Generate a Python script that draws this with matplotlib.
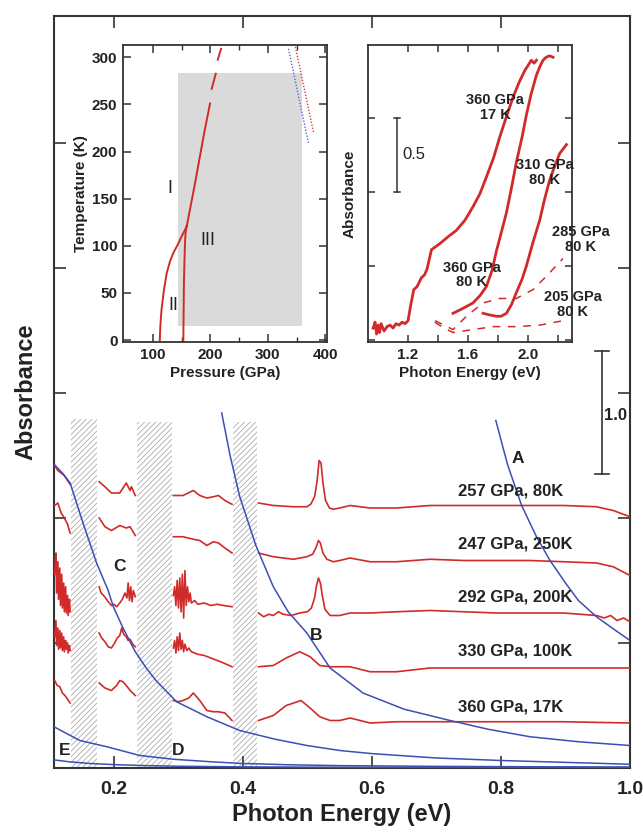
import matplotlib
matplotlib.use("Agg")
import matplotlib.pyplot as plt
from matplotlib.patches import Rectangle

plt.rcParams["font.family"] = ["Liberation Sans", "DejaVu Sans"]
plt.rcParams["hatch.linewidth"] = 0.6

# ---------------- main panel: IR spectra ----------------
spec_labels = ["257 GPa, 80K", "247 GPa, 250K", "292 GPa, 200K", "330 GPa, 100K", "360 GPa, 17K"]

# each trace is split into 4 pieces by the hatched (opaque) windows
spec_257_e = [
    [0.108, 0.113, 0.118, 0.123, 0.128, 0.132],
    [0.177, 0.186, 0.196, 0.209, 0.219, 0.225, 0.227, 0.233],
    [0.292, 0.307, 0.323, 0.333, 0.344, 0.354, 0.362, 0.372, 0.383],
    [0.424, 0.447, 0.478, 0.499, 0.505, 0.511, 0.515, 0.518, 0.521, 0.524, 0.528, 0.534, 0.540,
     0.550, 0.566, 0.597, 0.638, 0.690, 0.742, 0.793, 0.845, 0.897, 0.948, 0.974, 1.0],
]
spec_257_a = [
    [2.42, 2.38, 2.36, 2.34, 2.30, 2.27],
    [2.29, 2.25, 2.20, 2.20, 2.28, 2.22, 2.25, 2.18],
    [2.18, 2.18, 2.22, 2.18, 2.16, 2.17, 2.18, 2.14, 2.11],
    [2.12, 2.10, 2.09, 2.09, 2.11, 2.17, 2.30, 2.46, 2.44, 2.28, 2.14, 2.08, 2.07,
     2.08, 2.10, 2.08, 2.08, 2.10, 2.10, 2.10, 2.10, 2.10, 2.09, 2.06, 2.01],
]

spec_247_e = [
    [0.108, 0.113, 0.118, 0.123, 0.128, 0.132],
    [0.177, 0.186, 0.196, 0.209, 0.219, 0.225, 0.233],
    [0.292, 0.307, 0.323, 0.333, 0.344, 0.354, 0.362, 0.372, 0.383],
    [0.424, 0.447, 0.478, 0.499, 0.508, 0.513, 0.517, 0.520, 0.524, 0.530, 0.540, 0.550, 0.566,
     0.597, 0.638, 0.690, 0.742, 0.793, 0.845, 0.897, 0.948, 0.974, 1.0],
]
spec_247_a = [
    [2.10, 2.12, 2.04, 2.00, 1.95, 1.88],
    [2.00, 1.93, 1.90, 1.94, 1.92, 1.93, 1.86],
    [1.85, 1.85, 1.83, 1.82, 1.78, 1.81, 1.80, 1.76, 1.72],
    [1.72, 1.69, 1.67, 1.69, 1.71, 1.76, 1.82, 1.80, 1.72, 1.67, 1.65, 1.66, 1.68,
     1.65, 1.65, 1.67, 1.66, 1.66, 1.66, 1.65, 1.64, 1.61, 1.54],
]

spec_292_e = [
    [0.108, 0.110, 0.111, 0.113, 0.114, 0.116, 0.117, 0.119, 0.120, 0.122, 0.123, 0.125, 0.126,
     0.128, 0.129, 0.131, 0.132],
    [0.177, 0.180, 0.184, 0.187, 0.191, 0.196, 0.200, 0.204, 0.209, 0.213, 0.217, 0.220, 0.222,
     0.224, 0.226, 0.228, 0.230, 0.233],
    [0.292, 0.294, 0.296, 0.298, 0.300, 0.302, 0.304, 0.306, 0.308, 0.310, 0.312, 0.314, 0.316,
     0.318, 0.320, 0.325, 0.330, 0.340, 0.350, 0.360, 0.370, 0.383],
    [0.424, 0.432, 0.440, 0.447, 0.455, 0.462, 0.475, 0.488, 0.500, 0.506, 0.511, 0.514, 0.517,
     0.520, 0.523, 0.527, 0.535, 0.550, 0.566, 0.597, 0.638, 0.690, 0.742, 0.793, 0.845, 0.897,
     0.948, 0.960, 0.970, 0.980, 0.990, 1.0],
]
spec_292_a = [
    [1.55, 1.72, 1.40, 1.65, 1.35, 1.60, 1.30, 1.55, 1.28, 1.48, 1.25, 1.45, 1.24, 1.38, 1.22,
     1.35, 1.25],
    [1.45, 1.40, 1.38, 1.36, 1.33, 1.30, 1.31, 1.29, 1.32, 1.35, 1.40, 1.36, 1.48, 1.34, 1.45,
     1.33, 1.42, 1.37],
    [1.38, 1.45, 1.30, 1.50, 1.28, 1.52, 1.25, 1.55, 1.20, 1.58, 1.30, 1.45, 1.33, 1.40, 1.32,
     1.34, 1.31, 1.32, 1.30, 1.31, 1.30, 1.29],
    [1.24, 1.21, 1.23, 1.22, 1.25, 1.23, 1.22, 1.24, 1.25, 1.28, 1.36, 1.46, 1.52, 1.48, 1.38,
     1.27, 1.22, 1.22, 1.24, 1.24, 1.25, 1.26, 1.25, 1.24, 1.24, 1.24, 1.22, 1.20, 1.22, 1.18,
     1.20, 1.17],
]

spec_330_e = [
    [0.108, 0.110, 0.111, 0.113, 0.114, 0.116, 0.117, 0.119, 0.120, 0.122, 0.123, 0.125, 0.126,
     0.128, 0.129, 0.131, 0.132],
    [0.177, 0.181, 0.186, 0.191, 0.196, 0.201, 0.205, 0.209, 0.212, 0.215, 0.219, 0.222, 0.225,
     0.229, 0.233],
    [0.292, 0.294, 0.296, 0.298, 0.300, 0.302, 0.304, 0.306, 0.308, 0.310, 0.313, 0.316, 0.320,
     0.330, 0.340, 0.350, 0.360, 0.370, 0.383],
    [0.424, 0.447, 0.467, 0.488, 0.504, 0.519, 0.535, 0.550, 0.566, 0.597, 0.638, 0.690, 0.742,
     0.793, 0.845, 0.897, 0.948, 1.0],
]
spec_330_a = [
    [1.05, 1.18, 0.98, 1.12, 0.95, 1.10, 0.96, 1.08, 0.94, 1.05, 0.93, 1.02, 0.95, 1.00, 0.92,
     0.98, 0.94],
    [1.08, 1.04, 1.01, 0.97, 0.96, 1.00, 1.04, 1.06, 1.12, 1.07, 1.05, 1.02, 1.03, 0.99, 0.97],
    [0.96, 1.02, 0.92, 1.05, 0.94, 1.08, 0.95, 1.02, 0.93, 0.99, 0.94, 0.96, 0.93, 0.91, 0.90,
     0.88, 0.86, 0.84, 0.81],
    [0.81, 0.82, 0.88, 0.93, 0.89, 0.82, 0.81, 0.81, 0.81, 0.77, 0.77, 0.80, 0.80, 0.80, 0.80,
     0.80, 0.80, 0.80],
]

spec_360_e = [
    [0.108, 0.112, 0.116, 0.120, 0.124, 0.128, 0.132],
    [0.177, 0.186, 0.196, 0.204, 0.209, 0.214, 0.219, 0.225, 0.233],
    [0.292, 0.300, 0.307, 0.316, 0.323, 0.333, 0.344, 0.354, 0.362, 0.372, 0.383],
    [0.424, 0.447, 0.467, 0.490, 0.504, 0.519, 0.535, 0.550, 0.566, 0.597, 0.638, 0.690, 0.793,
     0.897, 1.0],
]
spec_360_a = [
    [0.70, 0.66, 0.65, 0.60, 0.58, 0.55, 0.52],
    [0.68, 0.64, 0.62, 0.66, 0.70, 0.69, 0.66, 0.62, 0.58],
    [0.54, 0.53, 0.54, 0.56, 0.60, 0.54, 0.46, 0.45, 0.45, 0.44, 0.38],
    [0.38, 0.42, 0.50, 0.54, 0.48, 0.41, 0.38, 0.38, 0.40, 0.36, 0.37, 0.37, 0.37, 0.37, 0.36],
]

# model (blue) curves A-E
curve_a_e = [0.792, 0.81, 0.832, 0.855, 0.876, 0.90, 0.92, 0.948, 0.975, 1.0]
curve_a_a = [2.78, 2.43, 2.10, 1.85, 1.66, 1.48, 1.34, 1.21, 1.11, 1.02]
curve_b_e = [0.367, 0.38, 0.395, 0.42, 0.447, 0.47, 0.499, 0.535, 0.586, 0.65, 0.721, 0.78, 0.845, 0.92, 1.0]
curve_b_a = [2.84, 2.50, 2.17, 1.78, 1.45, 1.25, 1.08, 0.80, 0.60, 0.47, 0.38, 0.31, 0.25, 0.21, 0.18]
curve_c_e = [0.107, 0.120, 0.132, 0.152, 0.173, 0.191, 0.199, 0.214, 0.233, 0.25, 0.265, 0.297,
             0.344, 0.395, 0.45, 0.499, 0.55, 0.6, 0.7, 0.8, 0.9, 1.0]
curve_c_a = [2.43, 2.36, 2.28, 1.96, 1.64, 1.42, 1.29, 1.12, 0.93, 0.80, 0.70, 0.53,
             0.41, 0.30, 0.23, 0.18, 0.14, 0.115, 0.08, 0.06, 0.045, 0.03]
curve_e_e = [0.107, 0.125, 0.147, 0.189, 0.24, 0.292, 0.35, 0.395, 0.47, 0.55, 0.7, 0.85, 1.0]
curve_e_a = [0.33, 0.28, 0.22, 0.17, 0.10, 0.07, 0.05, 0.037, 0.026, 0.019, 0.013, 0.010, 0.008]
curve_d_e = [0.107, 0.13, 0.16, 0.2, 0.25, 0.3, 0.4, 0.55, 0.7, 1.0]
curve_d_a = [0.065, 0.05, 0.037, 0.027, 0.019, 0.014, 0.009, 0.006, 0.004, 0.003]

# opaque windows of the diamond anvils (hatched)
hatch_lo = [0.134, 0.235, 0.385]
hatch_hi = [0.174, 0.290, 0.421]
hatch_top = [2.79, 2.77, 2.77]

# ---------------- left inset: phase diagram ----------------
line_12_p = [112, 113, 115, 119, 124, 130, 136, 143, 150, 156, 159]
line_12_t = [0, 15, 32, 52, 71, 84, 93, 101, 110, 117, 121]
line_23_p = [153, 153.5, 154, 155, 156, 157, 159]
line_23_t = [0, 30, 60, 85, 105, 115, 121]
line_13_p = [159, 165, 172, 181, 190, 199.5]
line_13_t = [121, 140, 162, 192, 222, 251]
line_13_dash_p = [[202.4, 209.4], [212.9, 218.7]]
line_13_dash_t = [[266.6, 282.5], [297.4, 309.0]]
dot_blue_p = [336, 371]
dot_blue_t = [309, 208]
dot_red_p = [348, 380]
dot_red_t = [311, 219]
region_p = [143, 360]
region_t = [15, 283]

# ---------------- right inset: visible absorption ----------------
vis_360_17_e = [0.967, 0.98, 0.99, 1.0, 1.01, 1.02, 1.04, 1.06, 1.08, 1.10, 1.12, 1.14, 1.16, 1.18,
                1.20, 1.215, 1.238, 1.26, 1.289, 1.31, 1.327, 1.356, 1.411, 1.47, 1.522, 1.58,
                1.633, 1.68, 1.722, 1.77, 1.811, 1.856, 1.90, 1.94, 1.978, 2.022, 2.04, 2.056]
vis_360_17_a = [0.08, 0.12, 0.04, 0.10, 0.05, 0.11, 0.06, 0.09, 0.10, 0.08, 0.11, 0.10, 0.12, 0.11,
                0.13, 0.22, 0.34, 0.36, 0.42, 0.44, 0.48, 0.61, 0.65, 0.70, 0.74, 0.81,
                0.90, 0.99, 1.10, 1.23, 1.37, 1.51, 1.64, 1.74, 1.82, 1.89, 1.87, 1.89]
vis_360_80_e = [1.5, 1.56, 1.633, 1.68, 1.722, 1.76, 1.789, 1.82, 1.856, 1.89, 1.922, 1.96, 1.989,
                2.02, 2.056, 2.08, 2.1, 2.12, 2.144, 2.167]
vis_360_80_a = [0.18, 0.21, 0.25, 0.30, 0.36, 0.47, 0.60, 0.72, 0.86, 1.03, 1.20, 1.37, 1.52,
                1.66, 1.79, 1.85, 1.89, 1.91, 1.92, 1.91]
vis_310_80_e = [1.70, 1.74, 1.789, 1.82, 1.856, 1.89, 1.922, 1.96, 1.989, 2.03, 2.078, 2.11, 2.144,
                2.18, 2.211, 2.256]
vis_310_80_a = [0.18, 0.17, 0.16, 0.16, 0.18, 0.24, 0.32, 0.41, 0.50, 0.65, 0.81, 0.95, 1.08,
                1.18, 1.26, 1.32]
vis_285_80_e = [1.38, 1.44, 1.50, 1.589, 1.70, 1.811, 1.922, 2.033, 2.122, 2.233]
vis_285_80_a = [0.13, 0.10, 0.07, 0.16, 0.25, 0.28, 0.28, 0.34, 0.43, 0.55]
vis_205_80_e = [1.378, 1.44, 1.50, 1.633, 1.767, 1.922, 2.078, 2.233]
vis_205_80_a = [0.12, 0.08, 0.05, 0.07, 0.09, 0.09, 0.10, 0.13]

RED = "#d12a2a"
BLUE = "#3b4fb4"
SPINE = "#333333"

fig = plt.figure(figsize=(6.43, 8.34), dpi=100)

# main axes
ax = fig.add_axes([54 / 643, 66 / 834, 576 / 643, 752 / 834])
ax.set_xlim(0.107, 1.0)
ax.set_ylim(0, 6.016)

for lo, hi, top in zip(hatch_lo, hatch_hi, hatch_top):
    ax.add_patch(Rectangle((lo, 0), hi - lo, top, facecolor="white", edgecolor="#ababab",
                           hatch="//////", lw=0, zorder=1))

for es, as_ in [(spec_257_e, spec_257_a), (spec_247_e, spec_247_a), (spec_292_e, spec_292_a),
                (spec_330_e, spec_330_a), (spec_360_e, spec_360_a)]:
    for e, a in zip(es, as_):
        ax.plot(e, a, color=RED, lw=1.2, zorder=3)

for e, a in [(curve_a_e, curve_a_a), (curve_b_e, curve_b_a), (curve_c_e, curve_c_a),
             (curve_e_e, curve_e_a), (curve_d_e, curve_d_a)]:
    ax.plot(e, a, color=BLUE, lw=1.1, zorder=4)

label_y = [2.22, 1.79, 1.37, 0.94, 0.49]
for txt, y in zip(spec_labels, label_y):
    ax.text(0.733, y, txt, fontsize=12, fontweight="bold", color="#222222",
            ha="left", va="center", zorder=5)

for txt, x, y in [("A", 0.826, 2.48), ("B", 0.514, 1.06), ("C", 0.208, 1.61),
                  ("D", 0.299, 0.14), ("E", 0.124, 0.14)]:
    ax.text(x, y, txt, fontsize=12.5, fontweight="bold", color="#222222",
            ha="center", va="center", zorder=5)

# scale bar
ax.plot([0.956, 0.956], [2.35, 3.34], color=SPINE, lw=1.2)
ax.plot([0.945, 0.967], [2.35, 2.35], color=SPINE, lw=1.2)
ax.plot([0.945, 0.967], [3.34, 3.34], color=SPINE, lw=1.2)
ax.text(0.96, 2.82, "1.0", fontsize=12, fontweight="bold", color="#222222", ha="left", va="center")

ax.set_xticks([0.2, 0.4, 0.6, 0.8, 1.0])
ax.set_xticklabels(["0.2", "0.4", "0.6", "0.8", "1.0"], fontweight="bold")
ax.set_yticks([1, 2, 3, 4, 5])
ax.set_yticklabels([])
ax.tick_params(direction="in", length=8.5, width=1.2, top=True, right=True,
               labelsize=14, pad=9, colors=SPINE, labelcolor="#222222")
for s in ax.spines.values():
    s.set_linewidth(1.5)
    s.set_color(SPINE)
ax.set_xlabel("Photon Energy (eV)", fontsize=17, fontweight="bold", color="#222222", labelpad=4)
ax.set_ylabel("Absorbance", fontsize=17, fontweight="bold", color="#222222")
ax.yaxis.set_label_coords(-0.028, 0.5)

# left inset: phase diagram
ax1 = fig.add_axes([123 / 643, (834 - 342) / 834, 204 / 643, 297 / 834])
ax1.set_xlim(48, 403)
ax1.set_ylim(-2, 313)
ax1.add_patch(Rectangle((region_p[0], region_t[0]), region_p[1] - region_p[0],
                        region_t[1] - region_t[0], facecolor="#dadada", lw=0))
ax1.plot(line_12_p, line_12_t, color=RED, lw=1.4)
ax1.plot(line_23_p, line_23_t, color=RED, lw=1.4)
ax1.plot(line_13_p, line_13_t, color=RED, lw=1.4)
for p, t in zip(line_13_dash_p, line_13_dash_t):
    ax1.plot(p, t, color=RED, lw=1.4)
ax1.plot(dot_blue_p, dot_blue_t, color="#5566cc", lw=1.0, ls=(0, (1, 1.2)))
ax1.plot(dot_red_p, dot_red_t, color="#cc4444", lw=1.0, ls=(0, (1, 1.2)))
ax1.text(130, 161, "I", fontsize=13, ha="center", va="center", color="#222222")
ax1.text(135, 37, "II", fontsize=13, ha="center", va="center", color="#222222")
ax1.text(196, 106, "III", fontsize=13, ha="center", va="center", color="#222222")
ax1.set_xticks([100, 200, 300, 400])
ax1.set_xticks([150, 250, 350], minor=True)
ax1.set_yticks([0, 50, 100, 150, 200, 250, 300])
ax1.tick_params(which="major", direction="in", length=6, width=1.1, top=True, right=True,
                labelsize=11, colors=SPINE, labelcolor="#222222", pad=4)
ax1.tick_params(which="minor", direction="in", length=3.5, width=1.0, top=True, right=True,
                colors=SPINE)
for lbl in ax1.get_xticklabels() + ax1.get_yticklabels():
    lbl.set_fontweight("bold")
for s in ax1.spines.values():
    s.set_linewidth(1.3)
    s.set_color(SPINE)
ax1.set_xlabel("Pressure (GPa)", fontsize=11, fontweight="bold", color="#222222", labelpad=3)
ax1.set_ylabel("Temperature (K)", fontsize=11, fontweight="bold", color="#222222", labelpad=3)

# right inset: visible absorption edges
ax2 = fig.add_axes([368 / 643, (834 - 342) / 834, 204 / 643, 297 / 834])
ax2.set_xlim(0.933, 2.293)
ax2.set_ylim(-0.014, 1.993)
ax2.plot(vis_360_17_e, vis_360_17_a, color=RED, lw=2.0)
ax2.plot(vis_360_80_e, vis_360_80_a, color=RED, lw=2.0)
ax2.plot(vis_310_80_e, vis_310_80_a, color=RED, lw=2.0)
ax2.plot(vis_285_80_e, vis_285_80_a, color=RED, lw=1.1, ls=(0, (5, 5)))
ax2.plot(vis_205_80_e, vis_205_80_a, color=RED, lw=1.1, ls=(0, (5, 5)))

for txt, x, y in [("360 GPa\n17 K", 1.78, 1.57), ("310 GPa\n80 K", 2.11, 1.13),
                  ("285 GPa\n80 K", 2.353, 0.68), ("360 GPa\n80 K", 1.626, 0.44),
                  ("205 GPa\n80 K", 2.30, 0.24)]:
    ax2.text(x, y, txt, fontsize=10.5, fontweight="bold", color="#222222", ha="center",
             va="center", linespacing=1.05, clip_on=False)

ax2.plot([1.127, 1.127], [1.0, 1.5], color=SPINE, lw=1.1)
ax2.plot([1.105, 1.149], [1.0, 1.0], color=SPINE, lw=1.1)
ax2.plot([1.105, 1.149], [1.5, 1.5], color=SPINE, lw=1.1)
ax2.text(1.16, 1.25, "0.5", fontsize=12, color="#222222", ha="left", va="center")

ax2.set_xticks([1.2, 1.4, 1.6, 1.8, 2.0, 2.2])
ax2.set_xticklabels(["1.2", "", "1.6", "", "2.0", ""], fontweight="bold")
ax2.set_yticks([0, 0.5, 1.0, 1.5])
ax2.set_yticklabels([])
ax2.tick_params(direction="in", length=5, width=1.1, top=True, right=True,
                labelsize=11, colors=SPINE, labelcolor="#222222", pad=4)
for s in ax2.spines.values():
    s.set_linewidth(1.3)
    s.set_color(SPINE)
ax2.set_xlabel("Photon Energy (eV)", fontsize=11, fontweight="bold", color="#222222", labelpad=3)
ax2.set_ylabel("Absorbance", fontsize=11, fontweight="bold", color="#222222", labelpad=4)

fig.savefig("out.png", dpi=100)
